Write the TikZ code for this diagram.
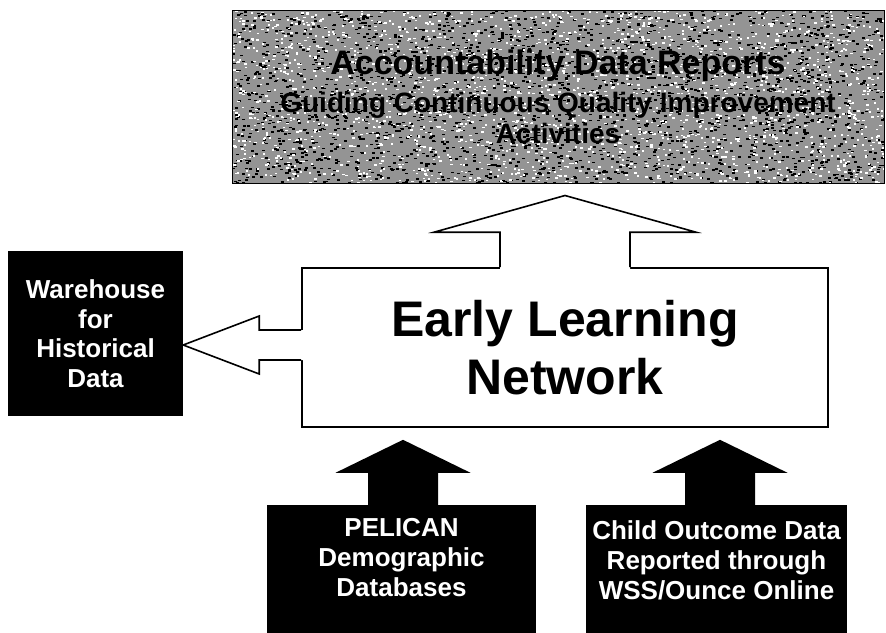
\documentclass[tikz,border=0pt]{standalone}
\usepackage{fontspec}
\setmainfont{Liberation Sans}
\usetikzlibrary{calc}
\begin{document}
\begin{tikzpicture}[x=1pt,y=-1pt,
  blackbox/.style={fill=black, text=white, font=\fontsize{26}{30}\selectfont\bfseries, align=center, inner sep=0pt},
  whitebox/.style={draw=black, line width=1.6pt, fill=white, inner sep=0pt, align=center},
  hollow/.style={draw=black, line width=1.6pt, line join=miter},
  speck/.style={fill=black}]
\useasboundingbox (0,0) rectangle (886,632);
\pgfmathsetseed{11}

% top report box with mottled grey texture
\node[draw=black, line width=1pt, fill=black!42, minimum width=652pt, minimum height=173pt,
      inner sep=0pt, align=center, font=\fontsize{28}{31}\selectfont\bfseries,
      path picture={
        \foreach \i in {1,...,2600}{
          \fill[black] ($(path picture bounding box.north west)+(652*rnd,173*rnd)$) rectangle ++(3,1.6);
        }
        \foreach \i in {1,...,2200}{
          \fill[white] ($(path picture bounding box.north west)+(652*rnd,173*rnd)$) rectangle ++(2.4,1.6);
        }
      }] (reports) at (558,96.5)
  {{\fontsize{34}{31}\selectfont Accountability Data Reports}\\[7pt]
   Guiding Continuous Quality Improvement\\ Activities};

% main box
\node[whitebox, minimum width=526pt, minimum height=159pt,
      font=\fontsize{50}{58}\selectfont\bfseries] (eln) at (565,347.5)
  {Early Learning\\Network};

% side and bottom boxes
\node[blackbox, minimum width=175pt, minimum height=165pt,
      font=\fontsize{26}{29.5}\selectfont\bfseries] (wh) at (95.5,333.5)
  {Warehouse\\for\\Historical\\Data};
\node[blackbox, minimum width=269pt, minimum height=106pt] (pel) at (401.5,558)
  {PELICAN\\Demographic\\Databases};
\fill[black] (pel.south west) rectangle ($(pel.south east)+(0,30)$);
\node[blackbox, minimum width=261pt, minimum height=110pt] (cod) at (716.5,560)
  {Child Outcome Data\\Reported through\\WSS/Ounce Online};
\fill[black] (cod.south west) rectangle ($(cod.south east)+(0,30)$);

% hollow arrow up: Early Learning Network -> reports
\fill[white] ($(eln.north)+(-65,2)$) -- ++(0,-37) -- ++(-66,0)
  -- ($(eln.north |- reports.south)+(0,12)$)
  -- ($(eln.north)+(131,-35)$) -- ++(-66,0) -- ++(0,37) -- cycle;
\draw[hollow] ($(eln.north)+(-65,0)$) -- ++(0,-35) -- ++(-66,0)
  -- ($(eln.north |- reports.south)+(0,12)$)
  -- ($(eln.north)+(131,-35)$) -- ++(-66,0) -- ++(0,35);

% hollow arrow left: Early Learning Network -> warehouse
\fill[white] ($(eln.west)+(2,-17.5)$) -- ++(-44,0) -- ++(0,-14)
  -- ($(wh.east |- eln.west)+(0,-2.5)$)
  -- ($(eln.west)+(-42,26.5)$) -- ++(0,-14) -- ++(44,0) -- cycle;
\draw[hollow] ($(eln.west)+(0,-17.5)$) -- ++(-42,0) -- ++(0,-14)
  -- ($(wh.east |- eln.west)+(0,-2.5)$)
  -- ($(eln.west)+(-42,26.5)$) -- ++(0,-14) -- ++(42,0);

% solid arrows up: sources -> Early Learning Network
\fill[black] ($(pel.north)+(-33.5,1)$) -- ++(0,-33) -- ++(-32.5,0)
  -- ($(pel.north |- eln.south)+(1.5,12)$)
  -- ($(pel.north)+(69,-32)$) -- ++(-32.5,0) -- ++(0,33) -- cycle;
\fill[black] ($(cod.north)+(-31.5,1)$) -- ++(0,-33) -- ++(-32.5,0)
  -- ($(cod.north |- eln.south)+(3.5,12)$)
  -- ($(cod.north)+(71,-32)$) -- ++(-32.5,0) -- ++(0,33) -- cycle;
\end{tikzpicture}
\end{document}
